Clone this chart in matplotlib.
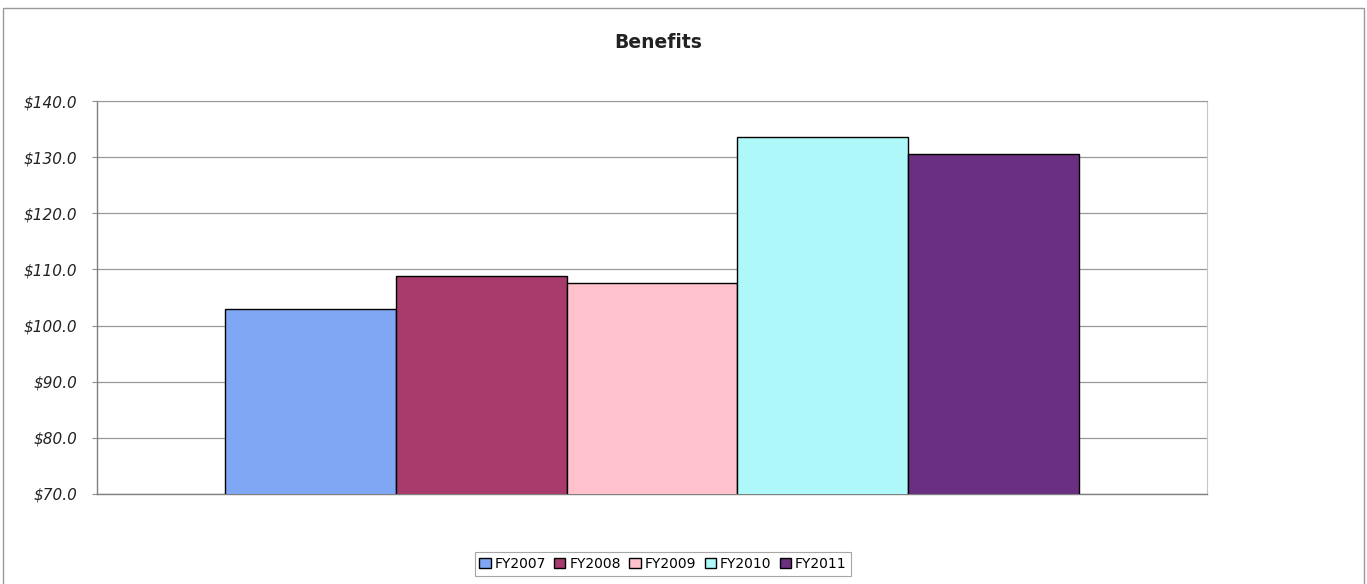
import matplotlib
matplotlib.use("Agg")
import matplotlib.pyplot as plt
from matplotlib.patches import Rectangle
from matplotlib.ticker import FuncFormatter

series = ["FY2007", "FY2008", "FY2009", "FY2010", "FY2011"]
values = [103.0, 108.8, 107.6, 133.6, 130.6]
colors = ["#7FA7F4", "#A83A6C", "#FFC2CC", "#AEF8FA", "#6A2F80"]
title = "Benefits"
yticks = [70, 80, 90, 100, 110, 120, 130, 140]

W, H = 1367, 584
fig = plt.figure(figsize=(W / 100, H / 100), dpi=100)
fig.patch.set_facecolor("white")

# outer chart border
fig.add_artist(Rectangle((3 / W, -0.01), (1364 - 3) / W, 1 - 8 / H + 0.01,
                         transform=fig.transFigure, fill=False,
                         edgecolor="#9a9a9a", linewidth=1.0))

ax = fig.add_axes([97 / W, 1 - 494 / H, (1207 - 97) / W, (494 - 101) / H])
x = list(range(len(series)))
bars = ax.bar(x, values, width=1.0, color=colors, edgecolor="black",
              linewidth=1.0, label=series, zorder=3)

ax.set_ylim(70, 140)
ax.set_xlim(-1.253, 5.253)
ax.set_yticks(yticks)
ax.yaxis.set_major_formatter(FuncFormatter(lambda v, p: f"${v:.1f}"))
ax.set_xticks([])
ax.grid(axis="y", color="#999999", linewidth=0.9, zorder=0)
for lab in ax.get_yticklabels():
    lab.set_fontstyle("italic")
    lab.set_fontsize(11)
    lab.set_color("#222222")
ax.tick_params(axis="y", length=3.6, color="#8c8c8c", pad=10.8)
for s in ["left", "bottom"]:
    ax.spines[s].set_color("#808080")
    ax.spines[s].set_linewidth(1.0)
ax.spines["right"].set_color("#c8c8c8")
ax.spines["top"].set_color("#999999")

fig.text(658 / W, 1 - 42 / H, title, ha="center", va="center",
         fontsize=13.5, fontweight="bold", color="#222222")

leg = fig.legend(handles=bars, labels=series, loc="center",
                 bbox_to_anchor=(663 / W, 1 - 564 / H), ncol=5,
                 frameon=True, fancybox=False, edgecolor="#909090",
                 fontsize=10, handlelength=0.8, handleheight=0.8,
                 handletextpad=0.3, columnspacing=0.6, borderpad=0.35)
leg.get_frame().set_linewidth(0.8)

fig.savefig("out.png", dpi=100, facecolor="white")
